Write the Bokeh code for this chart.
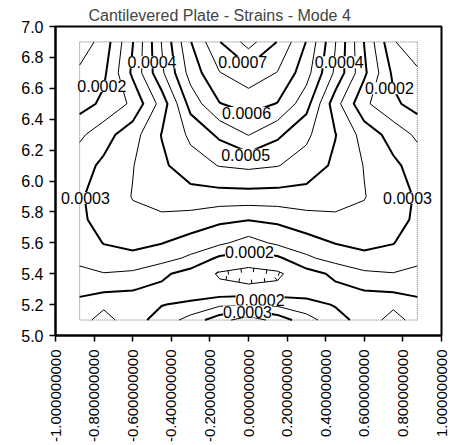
import numpy as np
from bokeh.plotting import figure
from bokeh.plotting.contour import contour_data
from bokeh.models import FixedTicker, PrintfTickFormatter, Range1d, ColumnDataSource
from bokeh.embed import file_html
from bokeh.resources import INLINE
from bokeh.core.properties import value

# Grid of measurement positions on the plate
x_nodes = [-0.875, -0.75, -0.6, -0.45, -0.3, -0.15, 0.0, 0.15, 0.3, 0.45, 0.6, 0.75, 0.875]
y_nodes = [5.1, 5.2, 5.3, 5.4, 5.5, 5.6, 5.75, 5.9, 6.1, 6.3, 6.5, 6.7, 6.9]

# Strain values, one row per y position (bottom to top)
strain_y510 = [0.00017, 0.00013, 0.00018, 0.00022, 0.00027, 0.00033, 0.00038, 0.00033, 0.00027, 0.00022, 0.00018, 0.00013, 0.00017]
strain_y520 = [0.00019, 0.00016, 0.00018, 0.000198, 0.00021, 0.00024, 0.00025, 0.00024, 0.00022, 0.000196, 0.00018, 0.00016, 0.00019]
strain_y530 = [0.00021, 0.00021, 0.000202, 0.00019, 0.00017, 0.00016, 0.00016, 0.00016, 0.00017, 0.00019, 0.000202, 0.00021, 0.00021]
strain_y540 = [0.00024, 0.000248, 0.00024, 0.00021, 0.00018, 0.000145, 0.00013, 0.000142, 0.00018, 0.00021, 0.00024, 0.000248, 0.00024]
strain_y550 = [0.00026, 0.00028, 0.00029, 0.00027, 0.00024, 0.00019, 0.00018, 0.00019, 0.00024, 0.00027, 0.00029, 0.00028, 0.00026]
strain_y560 = [0.00027, 0.000302, 0.00031, 0.000302, 0.00028, 0.00026, 0.00023, 0.00026, 0.00028, 0.000302, 0.00031, 0.000302, 0.00027]
strain_y575 = [0.00029, 0.00032, 0.00034, 0.00034, 0.00033, 0.00031, 0.000302, 0.00031, 0.00033, 0.00034, 0.00034, 0.00032, 0.00029]
strain_y590 = [0.000295, 0.00032, 0.000352, 0.00037, 0.00038, 0.00038, 0.00038, 0.00038, 0.00038, 0.00037, 0.000352, 0.00032, 0.000295]
strain_y610 = [0.00028, 0.00031, 0.000348, 0.00039, 0.00043, 0.000452, 0.00046, 0.000452, 0.00043, 0.00039, 0.000348, 0.00031, 0.00028]
strain_y630 = [0.00024, 0.00028, 0.00033, 0.000402, 0.00046, 0.00051, 0.000552, 0.00051, 0.00046, 0.000402, 0.00033, 0.00028, 0.00024]
strain_y650 = [0.00018, 0.00021, 0.00026, 0.00037, 0.00052, 0.000598, 0.00062, 0.000598, 0.00052, 0.00037, 0.00026, 0.00021, 0.00018]
strain_y670 = [0.00016, 0.00019, 0.00031, 0.00044, 0.00057, 0.000648, 0.00068, 0.000648, 0.00057, 0.00044, 0.00031, 0.00019, 0.00016]
strain_y690 = [0.00012, 0.00017, 0.000298, 0.000452, 0.000598, 0.000698, 0.00077, 0.000698, 0.000598, 0.000452, 0.000298, 0.000155, 0.00011]

# Contour levels
levels = [0.00015, 0.0002, 0.00025, 0.0003, 0.00035, 0.0004, 0.00045,
          0.0005, 0.00055, 0.0006, 0.00065, 0.0007, 0.00075]

# In-line level labels
label_levels = [0.0004, 0.0007, 0.0004, 0.0002, 0.0002, 0.0006, 0.0005,
                0.0003, 0.0003, 0.0002, 0.0002, 0.0003]
label_x = [-0.50, -0.03, 0.47, -0.76, 0.73, -0.01, -0.015, -0.845, 0.824, 0.005, 0.06, -0.005]
label_y = [6.768, 6.768, 6.768, 6.615, 6.60, 6.44, 6.17, 5.89, 5.89, 5.54, 5.23, 5.155]

# Axis ticks
x_ticks = [-1.0, -0.8, -0.6, -0.4, -0.2, 0.0, 0.2, 0.4, 0.6, 0.8, 1.0]
y_ticks = [5.0, 5.2, 5.4, 5.6, 5.8, 6.0, 6.2, 6.4, 6.6, 6.8, 7.0]

z = np.array([strain_y510, strain_y520, strain_y530, strain_y540, strain_y550,
              strain_y560, strain_y575, strain_y590, strain_y610, strain_y630,
              strain_y650, strain_y670, strain_y690])

FONT = "Liberation Sans"

p = figure(width=452, height=445, output_backend="svg", toolbar_location=None,
           x_range=Range1d(-1.0, 1.0), y_range=Range1d(5.0, 7.0),
           min_border_left=55, min_border_right=11, min_border_top=26,
           min_border_bottom=108, background_fill_color="white",
           border_fill_color="white")
p.title.text = "Cantilevered Plate - Strains - Mode 4"
p.title.text_font = FONT
p.title.text_font_size = "16px"
p.title.text_font_style = "normal"
p.title.align = "left"
p.title.offset = 33
p.title.standoff = 5
p.grid.visible = False
p.outline_line_color = "black"
p.outline_line_width = 2

# dotted boundary of the measured domain
p.quad(left=[min(x_nodes)], right=[max(x_nodes)], bottom=[min(y_nodes)], top=[max(y_nodes)],
       fill_color=None, line_color="#777777", line_dash="1 1", line_width=1)

# contour lines: whole multiples of 0.0001 drawn heavier
cd = contour_data(x_nodes, y_nodes, z, levels, want_fill=False, want_line=True)
ld = cd.line_data
widths = [2.0 if abs(lv * 1e4 - round(lv * 1e4)) < 1e-6 else 1.0 for lv in levels]
line_levels = list(ld.levels)
line_src = ColumnDataSource(dict(
    xs=[np.asarray(a, dtype=float) for a in ld.xs],
    ys=[np.asarray(a, dtype=float) for a in ld.ys],
    lw=[widths[int(np.argmin([abs(lv - L) for L in levels]))] for lv in line_levels],
))
p.multi_line(xs="xs", ys="ys", line_width="lw", source=line_src,
             line_color="black", line_join="miter")

# hachures on the closed low-strain loop, pointing inwards
kx, ky = 193.0, 155.5
tick_xs, tick_ys = [], []
lx = np.asarray(ld.xs[0], dtype=float)
ly = np.asarray(ld.ys[0], dtype=float)
breaks = np.where(np.isnan(lx))[0]
starts = np.concatenate([[0], breaks + 1]).astype(int)
ends = np.concatenate([breaks, [len(lx)]]).astype(int)
for s, e in zip(starts, ends):
    px, py = lx[s:e] * kx, ly[s:e] * ky
    if len(px) < 4:
        continue
    if abs(px[0] - px[-1]) > 1e-6 or abs(py[0] - py[-1]) > 1e-6:
        continue
    cx, cy = px[:-1].mean(), py[:-1].mean()
    seg = np.hypot(np.diff(px), np.diff(py))
    cum = np.concatenate([[0], np.cumsum(seg)])
    total = cum[-1]
    spacing = 13.0
    n = int(total // spacing)
    for k in range(n):
        d = (k + 0.5) * total / n
        i = int(min(max(np.searchsorted(cum, d) - 1, 0), len(seg) - 1))
        if seg[i] == 0:
            continue
        t = (d - cum[i]) / seg[i]
        qx = px[i] + t * (px[i + 1] - px[i])
        qy = py[i] + t * (py[i + 1] - py[i])
        dx, dy = (px[i + 1] - px[i]) / seg[i], (py[i + 1] - py[i]) / seg[i]
        nx, ny = -dy, dx
        if nx * (cx - qx) + ny * (cy - qy) < 0:
            nx, ny = -nx, -ny
        tick_xs.append([qx / kx, (qx + 4 * nx) / kx])
        tick_ys.append([qy / ky, (qy + 4 * ny) / ky])
if tick_xs:
    p.multi_line(xs=tick_xs, ys=tick_ys, line_color="black", line_width=1)

# level labels on white boxes
lab = ColumnDataSource(dict(x=label_x, y=label_y,
                            text=[f"{v:.4f}" for v in label_levels]))
p.text(x="x", y="y", text="text", source=lab, text_font=value(FONT),
       text_font_size="16px", text_align="center", text_baseline="middle",
       text_color="black", background_fill_color="white", padding=0)

# axes
p.xaxis.ticker = FixedTicker(ticks=x_ticks)
p.xaxis.formatter = PrintfTickFormatter(format="%.9f")
p.xaxis.major_label_orientation = np.pi / 2
p.yaxis.ticker = FixedTicker(ticks=y_ticks)
p.yaxis.formatter = PrintfTickFormatter(format="%.1f")
for ax in (p.xaxis, p.yaxis):
    ax.axis_line_width = 2
    ax.axis_line_color = "black"
    ax.major_tick_line_color = "black"
    ax.major_tick_line_width = 1.5
    ax.major_tick_out = 6
    ax.major_tick_in = 0
    ax.minor_tick_line_color = None
    ax.major_label_text_font = FONT
    ax.major_label_text_color = "black"
p.xaxis.major_label_text_font_size = "15px"
p.yaxis.major_label_text_font_size = "16px"
p.xaxis.major_label_standoff = 8
p.yaxis.major_label_standoff = 6

open("out.html", "w").write(file_html(p, INLINE))
